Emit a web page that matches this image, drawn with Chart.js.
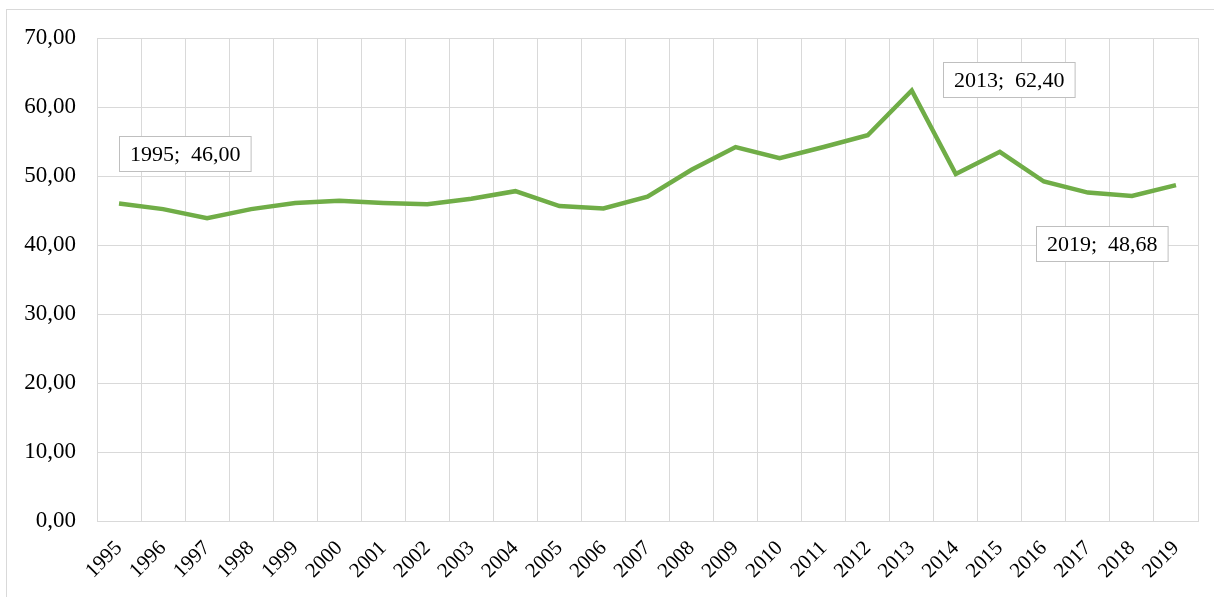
<!DOCTYPE html>
<html>
<head>
<meta charset="utf-8">
<script src="https://cdn.jsdelivr.net/npm/chart.js@4.4.0/dist/chart.umd.min.js"></script>
<style>
  html, body { margin: 0; padding: 0; background: #ffffff; }
  #wrap { position: relative; width: 1214px; height: 597px; }
</style>
</head>
<body>
<div id="wrap"><canvas id="c" width="1214" height="597"></canvas></div>
<script>
const categories = ['1995','1996','1997','1998','1999','2000','2001','2002','2003','2004','2005','2006','2007','2008','2009','2010','2011','2012','2013','2014','2015','2016','2017','2018','2019'];
const values = [46.00, 45.2, 43.9, 45.2, 46.1, 46.4, 46.1, 45.9, 46.7, 47.8, 45.65, 45.3, 47.0, 50.9, 54.2, 52.6, 54.2, 55.9, 62.40, 50.3, 53.5, 49.2, 47.6, 47.1, 48.68];
const yTicks = [0, 10, 20, 30, 40, 50, 60, 70];
const annotatedCategories = ['1995', '2013', '2019'];

function fmt(v) { return v.toFixed(2).replace('.', ','); }

const frame = {
  id: 'frame',
  beforeDraw(chart) {
    const ctx = chart.ctx;
    ctx.save();
    ctx.fillStyle = '#ffffff';
    ctx.fillRect(0, 0, chart.width, chart.height);
    ctx.strokeStyle = '#d9d9d9';
    ctx.lineWidth = 1;
    ctx.strokeRect(6.5, 9.5, chart.width + 10, chart.height + 10);
    ctx.restore();
  }
};

const calloutOffsets = { '1995': [66, -50], '2013': [97, -11], '2019': [-74, 58] };

const callouts = {
  id: 'callouts',
  afterDatasetsDraw(chart) {
    const ctx = chart.ctx;
    const xs = chart.scales.x, ys = chart.scales.y;
    ctx.save();
    ctx.font = '22px "Liberation Serif", "Times New Roman", serif';
    ctx.textAlign = 'center';
    ctx.textBaseline = 'middle';
    annotatedCategories.forEach(cat => {
      const i = categories.indexOf(cat);
      const px = xs.getPixelForValue(i);
      const py = ys.getPixelForValue(values[i]);
      const off = calloutOffsets[cat];
      const cx = px + off[0], cy = py + off[1];
      const text = cat + ';  ' + fmt(values[i]);
      const w = ctx.measureText(text).width + 21;
      const h = 35;
      const bx = Math.round(cx - w / 2) + 0.5, by = Math.round(cy - h / 2) + 0.5;
      ctx.fillStyle = '#ffffff';
      ctx.fillRect(bx, by, w, h);
      ctx.strokeStyle = '#bfbfbf';
      ctx.lineWidth = 1;
      ctx.strokeRect(bx, by, w, h);
      ctx.fillStyle = '#000000';
      ctx.fillText(text, bx + w / 2, by + h / 2 + 1);
    });
    ctx.restore();
  }
};

new Chart(document.getElementById('c'), {
  type: 'line',
  data: {
    labels: categories,
    datasets: [{
      data: values,
      borderColor: '#70ad47',
      borderWidth: 4.5,
      pointRadius: 0,
      tension: 0,
      fill: false,
      borderCapStyle: 'butt',
      borderJoinStyle: 'miter'
    }]
  },
  options: {
    responsive: false,
    animation: false,
    devicePixelRatio: 1,
    layout: { padding: { top: 38, right: 16, left: 0, bottom: 0 } },
    plugins: { legend: { display: false }, tooltip: { enabled: false } },
    scales: {
      x: {
        offset: true,
        grid: { offset: true, color: '#d9d9d9', lineWidth: 1, drawTicks: false },
        border: { color: '#d9d9d9' },
        ticks: {
          color: '#000000',
          font: { family: '"Liberation Serif", "Times New Roman", serif', size: 21 },
          maxRotation: 45, minRotation: 45,
          padding: 15,
          autoSkip: false
        },
        afterFit(scale) { scale.height = 76; }
      },
      y: {
        min: 0, max: 70,
        afterBuildTicks(scale) { scale.ticks = yTicks.map(v => ({ value: v })); },
        grid: { color: '#d9d9d9', lineWidth: 1, drawTicks: false },
        border: { color: '#d9d9d9' },
        ticks: {
          color: '#000000',
          font: { family: '"Liberation Serif", "Times New Roman", serif', size: 23 },
          padding: 21,
          callback: v => fmt(v)
        },
        afterFit(scale) { scale.width = 97; }
      }
    }
  },
  plugins: [frame, callouts]
});
</script>
</body>
</html>
